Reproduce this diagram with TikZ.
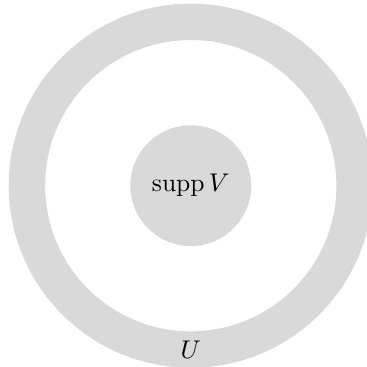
\documentclass[tikz,border=0pt]{standalone}
\usepackage{amsmath,amssymb}
\usetikzlibrary{positioning}
\tikzset{
  region/.style={fill=black!15, draw=none},
  support/.style={circle, region, minimum size=1.66cm, inner sep=0pt},
}

\begin{document}
\begin{tikzpicture}
  \useasboundingbox (-2.62,-2.49) rectangle (2.41,2.55);

  % Neighbourhood U as a ring
  \fill[region, even odd rule] (0,0) circle (2.5) (0,0) circle (2);
  \node (U) at (0,-2.25) {$U$};

  % Support of V in the middle
  \node[support] (suppV) at (0,0) {$\operatorname{supp} V$};
\end{tikzpicture}
\end{document}
